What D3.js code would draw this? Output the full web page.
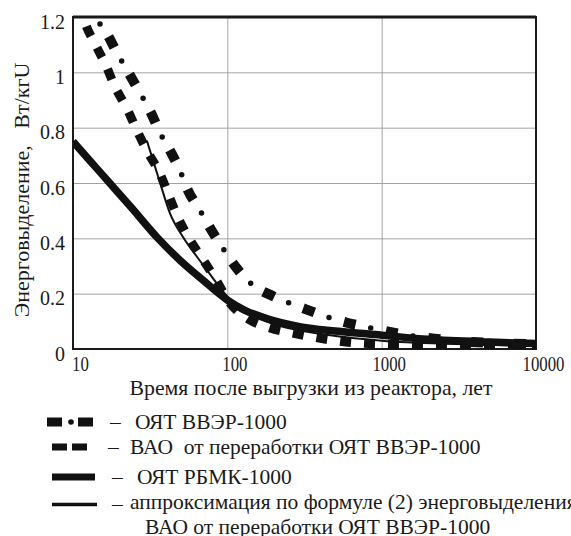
<!DOCTYPE html>
<html>
<head>
<meta charset="utf-8">
<script src="https://cdnjs.cloudflare.com/ajax/libs/d3/7.8.5/d3.min.js"></script>
<style>
  body { margin: 0; background: #fff; }
  text { font-family: "Liberation Serif", "DejaVu Serif", serif; fill: #1a1a1a; }
</style>
</head>
<body>
<svg id="chart" width="571" height="536"></svg>
<script>
// values (years after unloading, W/kgU)
var vverYears  = [12.5, 14.1, 16.6, 19.3, 23.1, 27.2, 32, 36.6, 43.2, 49.3, 55.6, 66.5, 78.4, 93.7, 115, 149, 198, 262, 348, 449, 605, 804, 1300, 2000, 3000, 5000, 10000];
var vverValues = [1.28, 1.2, 1.14, 1.07, 0.995, 0.926, 0.854, 0.782, 0.71, 0.645, 0.573, 0.501, 0.432, 0.364, 0.292, 0.227, 0.191, 0.162, 0.137, 0.115, 0.094, 0.079, 0.055, 0.04, 0.03, 0.022, 0.018];

var hlwYears  = [11, 12, 13.9, 16.4, 18.7, 22.4, 26, 30.6, 36.6, 41.3, 47.2, 56.5, 68.6, 83.2, 104, 140, 189, 262, 359, 692, 1500, 3000, 10000];
var hlwValues = [1.25, 1.178, 1.103, 1.023, 0.948, 0.868, 0.789, 0.71, 0.634, 0.562, 0.483, 0.4, 0.328, 0.256, 0.166, 0.105, 0.076, 0.058, 0.043, 0.022, 0.015, 0.01, 0.008];

var rbmkYears  = [10, 13, 17.4, 23.8, 35, 49.3, 69.5, 100, 130, 180, 300, 500, 1000, 2000, 5000, 10000];
var rbmkValues = [0.75, 0.678, 0.598, 0.512, 0.404, 0.321, 0.249, 0.177, 0.14, 0.11, 0.08, 0.065, 0.05, 0.035, 0.025, 0.02];

var fitYears  = [30.1, 36.6, 42.5, 51.7, 64.6, 73.8, 100, 150, 200, 400, 1000, 3000, 10000];
var fitValues = [0.753, 0.602, 0.49, 0.404, 0.328, 0.285, 0.19, 0.12, 0.09, 0.055, 0.03, 0.018, 0.012];

var xTicks = [10, 100, 1000, 10000];
var yTicks = [0, 0.2, 0.4, 0.6, 0.8, 1, 1.2];

var xTitle = "Время после выгрузки из реактора, лет";
var yTitle = "Энерговыделение,\u00a0\u00a0\u00a0Вт/кгU";

var legendLabels = [
  "ОЯТ ВВЭР-1000",
  "ВАО\u00a0 от переработки ОЯТ ВВЭР-1000",
  "ОЯТ РБМК-1000",
  "аппроксимация по формуле (2) энерговыделения",
  "ВАО от переработки ОЯТ ВВЭР-1000"
];

// plot box (window.top is reserved, so no plain "top")
var pLeft = 73, pRight = 536, pTop = 17, pBottom = 349;

var svg = d3.select("#chart");

var x = d3.scaleLog().domain([10, 10000]).range([pLeft, pRight]);
var y = d3.scaleLinear().domain([0, 1.2]).range([pBottom, pTop]);

svg.append("clipPath").attr("id", "plotClip")
  .append("rect")
  .attr("x", pLeft).attr("y", pTop)
  .attr("width", pRight - pLeft).attr("height", pBottom - pTop);

// grid + tick labels
var xAxis = svg.append("g")
  .attr("transform", "translate(0," + pBottom + ")")
  .call(d3.axisBottom(x).tickValues(xTicks).tickFormat(d3.format("d"))
    .tickSize(-(pBottom - pTop)).tickPadding(7));
xAxis.attr("font-family", null);
xAxis.select(".domain").remove();
xAxis.selectAll("line").attr("stroke", "#a3a3a3").attr("stroke-width", 1);
xAxis.selectAll("text")
  .attr("font-size", 21)
  .attr("fill", "#1a1a1a")
  .attr("transform", "translate(7,0) scale(0.8,1)");

var yAxis = svg.append("g")
  .attr("transform", "translate(" + pLeft + ",0)")
  .call(d3.axisLeft(y).tickValues(yTicks).tickFormat(d3.format("~g"))
    .tickSize(-(pRight - pLeft)).tickPadding(8));
yAxis.attr("font-family", null);
yAxis.select(".domain").remove();
yAxis.selectAll("line").attr("stroke", "#a3a3a3").attr("stroke-width", 1);
yAxis.selectAll("text")
  .attr("font-size", 20)
  .attr("fill", "#1a1a1a")
  .attr("dy", "0.55em");

// frame
svg.append("rect")
  .attr("x", pLeft).attr("y", pTop)
  .attr("width", pRight - pLeft).attr("height", pBottom - pTop)
  .attr("fill", "none").attr("stroke", "#1a1a1a").attr("stroke-width", 2);
svg.append("line")
  .attr("x1", pLeft).attr("x2", pRight).attr("y1", pTop).attr("y2", pTop)
  .attr("stroke", "#1a1a1a").attr("stroke-width", 3);

function toPoints(xs, ys){
  return xs.map(function(d, i){ return [d, ys[i]]; });
}

var line = d3.line()
  .x(function(d){ return x(d[0]); })
  .y(function(d){ return y(d[1]); })
  .curve(d3.curveMonotoneX);

var curves = svg.append("g").attr("clip-path", "url(#plotClip)");

// thin fit line
curves.append("path")
  .attr("d", line(toPoints(fitYears, fitValues)))
  .attr("fill", "none").attr("stroke", "#111").attr("stroke-width", 2);

// RBMK, thick solid
curves.append("path")
  .attr("d", line(toPoints(rbmkYears, rbmkValues)))
  .attr("fill", "none").attr("stroke", "#111").attr("stroke-width", 7.5);

// HLW, dashed
curves.append("path")
  .attr("d", line(toPoints(hlwYears, hlwValues)))
  .attr("fill", "none").attr("stroke", "#111").attr("stroke-width", 9)
  .attr("stroke-dasharray", "11 13");

// VVER, square-dot
var vverPath = line(toPoints(vverYears, vverValues));
curves.append("path")
  .attr("d", vverPath)
  .attr("fill", "none").attr("stroke", "#111").attr("stroke-width", 10)
  .attr("stroke-dasharray", "12 31")
  .attr("stroke-dashoffset", -4);
curves.append("path")
  .attr("d", vverPath)
  .attr("fill", "none").attr("stroke", "#111").attr("stroke-width", 5.5)
  .attr("stroke-linecap", "round")
  .attr("stroke-dasharray", "0 43")
  .attr("stroke-dashoffset", -31.5);

// axis titles
svg.append("text")
  .attr("x", 311).attr("y", 395)
  .attr("text-anchor", "middle")
  .attr("font-size", 21.8)
  .text(xTitle);

svg.append("text")
  .attr("transform", "translate(29,190) rotate(-90)")
  .attr("text-anchor", "middle")
  .attr("font-size", 22)
  .text(yTitle);

// legend
var rowY = [422, 447, 477, 504.5, 527];
var lg = svg.append("g");

lg.append("line")
  .attr("x1", 47).attr("x2", 95).attr("y1", rowY[0]).attr("y2", rowY[0])
  .attr("stroke", "#111").attr("stroke-width", 9)
  .attr("stroke-dasharray", "15 16");
lg.append("circle")
  .attr("cx", 71).attr("cy", rowY[0]).attr("r", 2.8).attr("fill", "#111");

lg.append("line")
  .attr("x1", 52).attr("x2", 92).attr("y1", rowY[1]).attr("y2", rowY[1])
  .attr("stroke", "#111").attr("stroke-width", 7)
  .attr("stroke-dasharray", "15 5");

lg.append("line")
  .attr("x1", 52).attr("x2", 95).attr("y1", rowY[2]).attr("y2", rowY[2])
  .attr("stroke", "#111").attr("stroke-width", 7);

lg.append("line")
  .attr("x1", 52).attr("x2", 97).attr("y1", rowY[3]).attr("y2", rowY[3])
  .attr("stroke", "#111").attr("stroke-width", 3.5);

var dashX = [110, 108, 112, 112];
var textX = [135, 130, 137, 130, 145];

lg.selectAll("text.dash")
  .data(dashX)
  .enter()
  .append("text")
  .attr("class", "dash")
  .attr("x", function(d){ return d; })
  .attr("y", function(d, i){ return rowY[i] + 6.5; })
  .attr("font-size", 21.5)
  .text("–");

lg.selectAll("text.label")
  .data(legendLabels)
  .enter()
  .append("text")
  .attr("class", "label")
  .attr("x", function(d, i){ return textX[i]; })
  .attr("y", function(d, i){ return rowY[i] + (i == 3 ? 4.5 : 6.5); })
  .attr("font-size", 21.5)
  .text(function(d){ return d; });
</script>
</body>
</html>
